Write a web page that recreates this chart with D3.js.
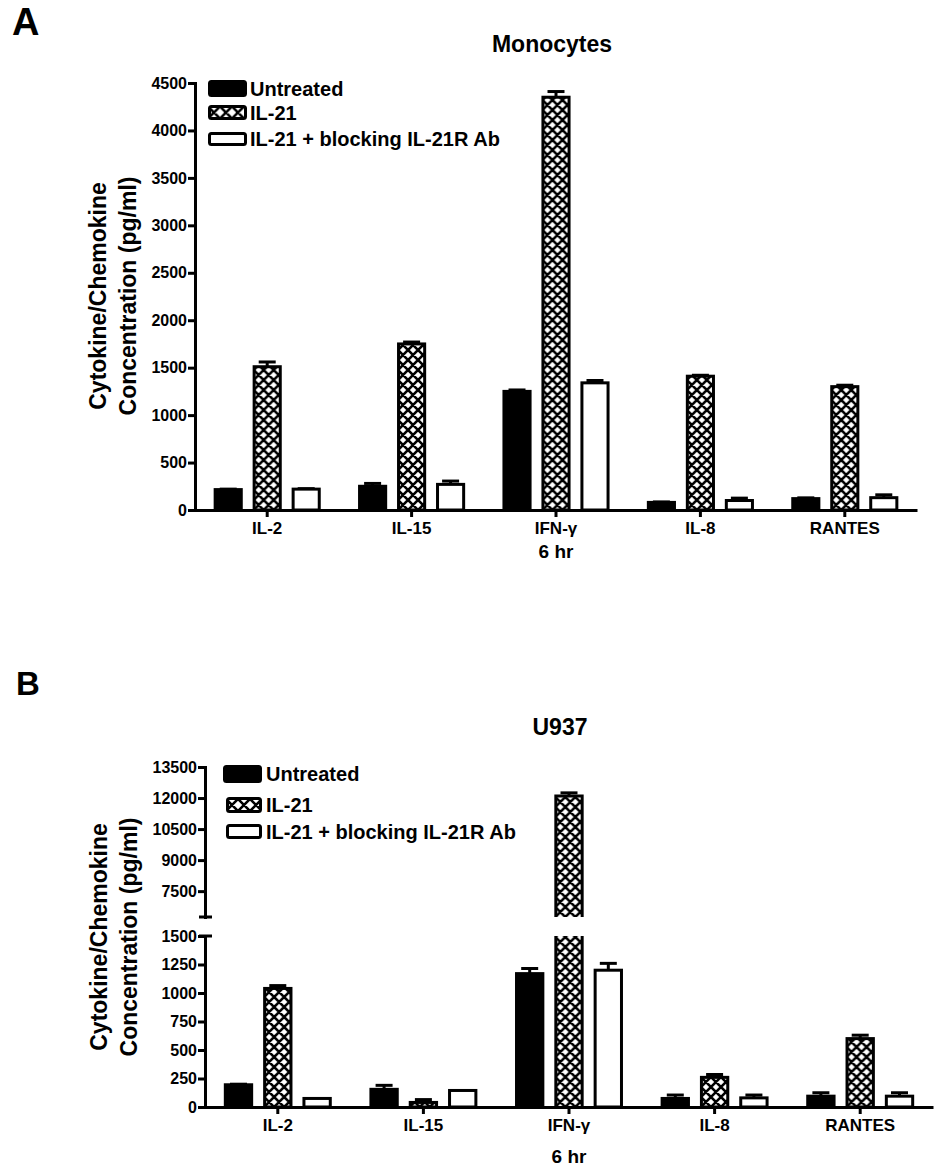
<!DOCTYPE html>
<html lang="en">
<head>
<meta charset="UTF-8">
<title>IL-21 cytokine bars</title>
<script src="https://d3js.org/d3.v7.min.js"></script>
<style>
  body { margin: 0; background: #fff; }
  svg { font-family: "Liberation Sans", Arial, sans-serif; }
  .axis path, .axis line { stroke: #000; stroke-width: 3; }
</style>
</head>
<body>
<script>
// categories and series
var categories = ["IL-2", "IL-15", "IFN-\u03b3", "IL-8", "RANTES"];
var series = ["Untreated", "IL-21", "IL-21 + blocking IL-21R Ab"];

// panel A, monocytes (pg/ml)
var monoUntreated    = [215, 250, 1250, 80, 120];
var monoUntreatedErr = [5, 30, 15, 5, 8];
var monoIL21         = [1510, 1750, 4350, 1410, 1300];
var monoIL21Err      = [50, 20, 60, 10, 15];
var monoBlocked      = [220, 270, 1340, 100, 130];
var monoBlockedErr   = [5, 35, 25, 25, 30];
var monoTicks = [0, 500, 1000, 1500, 2000, 2500, 3000, 3500, 4000, 4500];

// panel B, U937 (pg/ml)
var u937Untreated    = [195, 155, 1170, 75, 95];
var u937UntreatedErr = [5, 35, 45, 30, 30];
var u937IL21         = [1040, 40, 12100, 260, 600];
var u937IL21Err      = [25, 25, 150, 25, 30];
var u937Blocked      = [75, 145, 1200, 80, 95];
var u937BlockedErr   = [0, 0, 60, 25, 30];
var u937LowTicks  = [0, 250, 500, 750, 1000, 1250, 1500];
var u937HighTicks = [7500, 9000, 10500, 12000, 13500];

var W = 945, H = 1168;
var FONT = '"Liberation Sans", Arial, sans-serif';
var svg = d3.select("body").append("svg").attr("width", W).attr("height", H);
var defs = svg.append("defs");

function hatch(id, px, py, s) {
  var pat = defs.append("pattern").attr("id", id)
    .attr("patternUnits", "userSpaceOnUse")
    .attr("x", px).attr("y", py).attr("width", s).attr("height", s);
  pat.append("rect").attr("width", s).attr("height", s).attr("fill", "#fff");
  var d = "";
  [-s, 0, s].forEach(function(o) {
    d += "M" + (o - 1) + "," + (-1) + "L" + (o + s + 1) + "," + (s + 1);
    d += "M" + (o + s + 1) + "," + (-1) + "L" + (o - 1) + "," + (s + 1);
  });
  pat.append("path").attr("d", d).attr("stroke", "#000").attr("stroke-width", 2.6).attr("fill", "none");
  return "url(#" + id + ")";
}

function styleAxis(sel, size) {
  sel.attr("font-family", null).attr("font-size", null);
  sel.selectAll("text").style("font-family", FONT).style("font-size", size + "px")
    .style("font-weight", "bold").attr("fill", "#000");
}

function panel(p) {
  var g = svg.append("g");
  var x0 = d3.scaleBand().domain(categories).range([p.left, p.right]);
  var pitch = x0.bandwidth() * 0.27;
  var x1 = d3.scaleBand().domain(series).range([-1.5 * pitch, 1.5 * pitch])
    .paddingInner(0.33).paddingOuter(0.165);
  var low = d3.scaleLinear().domain(p.lowDomain).range(p.lowRange);
  var high = p.highDomain ? d3.scaleLinear().domain(p.highDomain).range(p.highRange) : null;
  var lowMax = p.lowDomain[1];
  function y(v) { return (high && v > lowMax) ? high(v) : low(v); }

  // panel letter and title
  g.append("text").attr("x", p.letterX).attr("y", p.letterY)
    .attr("font-size", p.letterSize).attr("font-weight", "bold").text(p.letter);
  g.append("text").attr("x", p.titleX).attr("y", p.titleY)
    .attr("text-anchor", "middle").attr("font-size", 23).attr("font-weight", "bold").text(p.title);

  // y label
  var yl = g.append("g").attr("transform", "translate(0," + p.labelY + ") rotate(-90)");
  yl.append("text").attr("x", 0).attr("y", p.labelX[0]).attr("text-anchor", "middle")
    .attr("font-size", 23).attr("font-weight", "bold").text("Cytokine/Chemokine");
  yl.append("text").attr("x", 0).attr("y", p.labelX[1]).attr("text-anchor", "middle")
    .attr("font-size", 23).attr("font-weight", "bold").text("Concentration (pg/ml)");

  // bars
  var bw = x1.bandwidth();
  p.values.forEach(function(vals, j) {
    vals.forEach(function(v, i) {
      var e = p.errors[j][i];
      var bx = x0(categories[i]) + x0.bandwidth() / 2 + x1(series[j]);
      var cx = bx + bw / 2;
      var fill = j === 0 ? "#000" : j === 2 ? "#fff" : hatch(p.id + "-h" + i, bx - 0.5, low(0), 10);

      if (e > 0) {
        g.append("line").attr("x1", cx).attr("x2", cx).attr("y1", y(v)).attr("y2", y(v + e))
          .attr("stroke", "#000").attr("stroke-width", 3);
        g.append("line").attr("x1", cx - 8.5).attr("x2", cx + 8.5).attr("y1", y(v + e)).attr("y2", y(v + e))
          .attr("stroke", "#000").attr("stroke-width", 3);
      }

      if (!high || v <= lowMax) {
        g.append("rect").attr("x", bx).attr("y", low(v)).attr("width", bw)
          .attr("height", low(0) - low(v)).attr("fill", fill)
          .attr("stroke", "#000").attr("stroke-width", 3);
      } else {
        // broken bar: lower piece up to the break, upper piece from the break
        var lt = low(lowMax), hb = high(p.highDomain[0]);
        g.append("rect").attr("x", bx).attr("y", lt).attr("width", bw)
          .attr("height", low(0) - lt).attr("fill", fill);
        g.append("path").attr("d", "M" + bx + "," + low(0) + "V" + lt + "M" + (bx + bw) + "," + lt + "V" + low(0))
          .attr("stroke", "#000").attr("stroke-width", 3).attr("fill", "none");
        g.append("rect").attr("x", bx).attr("y", high(v)).attr("width", bw)
          .attr("height", hb - high(v)).attr("fill", fill);
        g.append("path").attr("d", "M" + bx + "," + hb + "V" + high(v) + "H" + (bx + bw) + "V" + hb)
          .attr("stroke", "#000").attr("stroke-width", 3).attr("fill", "none");
      }
    });
  });

  // axes
  var ya = g.append("g").attr("class", "axis").attr("transform", "translate(" + p.left + ",0)")
    .call(d3.axisLeft(low).tickValues(p.lowTicks).tickFormat(d3.format("d"))
      .tickSize(7).tickSizeOuter(0).tickPadding(1));
  ya.select(".domain").attr("stroke-linecap", "square");
  styleAxis(ya, 16);
  if (high) {
    var yb = g.append("g").attr("class", "axis").attr("transform", "translate(" + p.left + ",0)")
      .call(d3.axisLeft(high).tickValues(p.highTicks).tickFormat(d3.format("d"))
        .tickSize(7).tickSizeOuter(0).tickPadding(1));
    yb.select(".domain").attr("stroke-linecap", "square");
    styleAxis(yb, 16);
    // break caps
    [p.highRange[0], p.lowRange[1]].forEach(function(yy) {
      g.append("line").attr("x1", p.left - 6).attr("x2", p.left + 7).attr("y1", yy).attr("y2", yy)
        .attr("stroke", "#000").attr("stroke-width", 3);
    });
  }
  var xa = g.append("g").attr("class", "axis").attr("transform", "translate(0," + low(0) + ")")
    .call(d3.axisBottom(x0).tickSize(7).tickSizeOuter(0).tickPadding(5));
  styleAxis(xa, 17);

  g.append("text").attr("x", x0(categories[2]) + x0.bandwidth() / 2).attr("y", p.hrY)
    .attr("text-anchor", "middle").attr("font-size", 19).attr("font-weight", "bold").text("6 hr");

  // legend
  p.legend.forEach(function(r, j) {
    var f = j === 0 ? "#000" : j === 2 ? "#fff" : hatch(p.id + "-leg", r.x, r.cy - 6, 12);
    g.append("rect").attr("x", r.x + 1.5).attr("y", r.cy - r.h / 2 + 1.5)
      .attr("width", r.w - 3).attr("height", r.h - 3).attr("rx", 2)
      .attr("fill", f).attr("stroke", "#000").attr("stroke-width", 3);
    g.append("text").attr("x", p.legendTextX).attr("y", r.cy).attr("dy", "0.35em")
      .attr("font-size", 20).attr("font-weight", "bold").text(series[j]);
  });
}

panel({
  id: "A", letter: "A", letterX: 12, letterY: 35, letterSize: 38,
  title: "Monocytes", titleX: 552, titleY: 52,
  left: 195, right: 917,
  lowDomain: [0, 4500], lowRange: [510, 83], lowTicks: monoTicks,
  values: [monoUntreated, monoIL21, monoBlocked],
  errors: [monoUntreatedErr, monoIL21Err, monoBlockedErr],
  labelY: 296, labelX: [106, 136], hrY: 558,
  legendTextX: 250,
  legend: [{x: 208, cy: 88.5, w: 39, h: 17}, {x: 208, cy: 112.5, w: 39, h: 15}, {x: 208, cy: 139, w: 39, h: 14}]
});

panel({
  id: "B", letter: "B", letterX: 16, letterY: 695, letterSize: 33,
  title: "U937", titleX: 560, titleY: 735,
  left: 205, right: 933,
  lowDomain: [0, 1500], lowRange: [1107, 936], lowTicks: u937LowTicks,
  highDomain: [6250, 13500], highRange: [917, 767], highTicks: u937HighTicks,
  values: [u937Untreated, u937IL21, u937Blocked],
  errors: [u937UntreatedErr, u937IL21Err, u937BlockedErr],
  labelY: 937, labelX: [107, 137], hrY: 1163,
  legendTextX: 266,
  legend: [{x: 223, cy: 774, w: 39, h: 18}, {x: 226, cy: 805, w: 36, h: 16}, {x: 226, cy: 831.5, w: 36, h: 15}]
});
</script>
</body>
</html>
